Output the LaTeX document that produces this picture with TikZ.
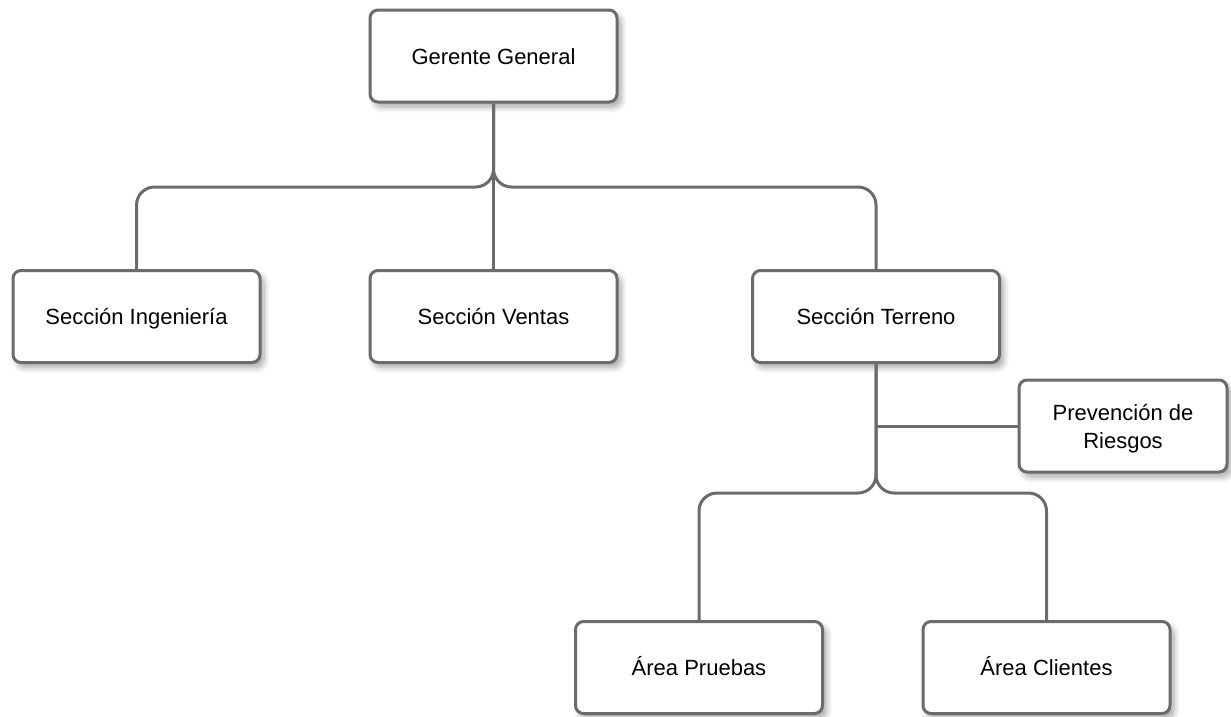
\documentclass[tikz,border=0pt]{standalone}
\usepackage{fontspec}
\setmainfont{Liberation Sans}
\usetikzlibrary{shadows.blur}
\definecolor{linegray}{HTML}{6B6B6B}
\tikzset{
  box/.style={draw=linegray, line width=3pt, fill=white, rounded corners=8pt,
    minimum width=247pt, minimum height=92pt, inner sep=0pt, align=center,
    text height=16pt, text depth=0pt,
    font=\fontsize{22}{28}\selectfont,
    blur shadow={shadow xshift=4pt, shadow yshift=-5pt, shadow blur steps=8, shadow blur radius=6pt, shadow opacity=35}},
  conn/.style={draw=linegray, line width=3pt, rounded corners=18pt}
}
\begin{document}
\begin{tikzpicture}[x=1pt,y=-1pt]
\useasboundingbox (0,0) rectangle (1231,716);
\node[box] (gg) at (493.5,56) {Gerente General};
\node[box] (ing) at (136.5,316.5) {Sección Ingeniería};
\node[box] (ven) at (493.5,316.5) {Sección Ventas};
\node[box] (ter) at (876,316.5) {Sección Terreno};
\node[box, minimum width=208pt, text height=44pt] (prev) at (1123,426) {Prevención de\\Riesgos};
\node[box] (pru) at (699,667.5) {Área Pruebas};
\node[box] (cli) at (1046.5,667.5) {Área Clientes};
\coordinate (bus1) at (493.5,187);
\coordinate (bus2) at (876,493);
\coordinate (tap) at (ter.south |- prev.west);
\draw[conn] (gg.south) -- (bus1) -| (ing.north);
\draw[conn] (gg.south) -- (ven.north);
\draw[conn] (gg.south) -- (bus1) -| (ter.north);
\draw[conn] (ter.south) -- (bus2) -| (pru.north);
\draw[conn] (ter.south) -- (bus2) -| (cli.north);
\draw[conn] (tap) -- (prev.west);
\end{tikzpicture}
\end{document}
